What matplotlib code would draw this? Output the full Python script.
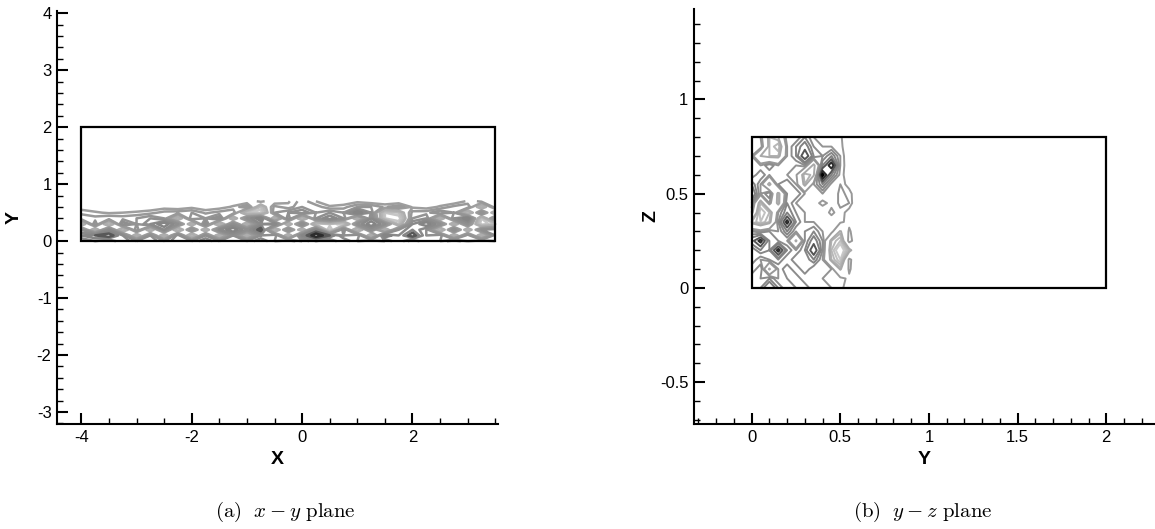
import numpy as np
import matplotlib
matplotlib.use("Agg")
import matplotlib.pyplot as plt
from matplotlib.patches import Rectangle
from matplotlib.ticker import MultipleLocator, FuncFormatter

plt.rcParams['font.family'] = ['Liberation Sans', 'DejaVu Sans']
plt.rcParams['axes.unicode_minus'] = False
plt.rcParams['mathtext.fontset'] = 'cm'

# ---- (a) x-y plane: field values (rows from top y=0.7 down to y=0)
xa = [-4.0, -3.75, -3.5, -3.25, -3.0, -2.75, -2.5, -2.25, -2.0, -1.75, -1.5, -1.25, -1.0,
      -0.75, -0.5, -0.25, 0.0, 0.25, 0.5, 0.75, 1.0, 1.25, 1.5, 1.75, 2.0, 2.25, 2.5,
      2.75, 3.0, 3.25, 3.5]
ya = [0.7, 0.6, 0.5, 0.4, 0.3, 0.2, 0.1, 0.0]
va = [
    [0, 0, 0, 0, 0, 0, 0, 0, 0, 0, 0, 0, 0, 0.7, 0, 0.4, 1.3, 0.5, 0, 0, 0.3, 0, 0, 0, 0, 0, 0, 0, 0.6, 1.2, 1.4],
    [0.2, 0, 0, 0, 0, 0, 0.2, 0, 0.3, 0, 0.2, 0.6, 1.5, -1.5, 1.2, 0.7, 1.5, 1.3, 0.6, 0.8, 1.5, 1.5, 0.9, 1.4, 0.4, 0.2, 0.6, 1.2, 1.5, -1.5, 1.5],
    [0.8, 0.6, 0.4, 0.5, 0.6, 0.8, 1.2, 1.3, 1.5, 0.9, 1.2, 1.5, -2, -2.5, 1.5, 2, 2.5, 1.5, 2, 1.5, 3.5, 2, -2, -1.5, 1.2, 1.3, 2, 1.5, -2, 2, -1.5],
    [1.5, 1.2, 1.5, 1.3, 1.5, 2, 1.5, -1.5, 2, 1.5, 2.5, -1.5, 2, 3.5, -1.5, 2.5, -2, 2, 3, 2, -1.5, 2.5, -2, -2.5, 1.5, 2, -1.5, 2, 3.5, -2, 2],
    [-1.5, 2, -2, 2.5, 1.5, 2.5, 3.5, 2, -1.5, 2.5, -2, 2, -1.5, 2.5, 3, -1.5, 2.5, -2, -1.5, -2.5, 2, 3.5, 2, -1.5, 2.5, 3.5, 2, -1.5, 2, -2.5, -1.5],
    [2, -1.5, 2.5, -2, 2, -1.5, 2.5, -2, 2, -1.5, 2.5, 3.5, 2, 4, -2, 2, -1.5, 3, -3, 2.5, -2, 2, -1.5, 2, 3, 2, -2, 2.5, -1.5, 2, 2.5],
    [3, 3.5, 4, 2.5, -1.5, 2, -1.5, 2.5, -2, 2, -1.5, 2, -1.5, 2, 2.5, -1.5, 3, 4.5, 3.5, 2, 2.5, -1.5, 3.5, 2.5, 4, 2, 2.5, -1.5, 2, -1.5, 2],
    [2, 2.5, 2, 3, 2, 2.5, 1.5, 2.5, 2, 3, 2, 2.5, 2, 3, 2, 2.5, 1.5, 2.5, 2, 3, 2, 2.5, 2, 3, 1.5, 2.5, 2, 3, 2, 2.5, 2],
]
box_a_x = [-4.0, 3.5]
box_a_y = [0.0, 2.0]

# ---- (b) y-z plane (rows from top z=0.8 down to z=0)
yb = [0.0, 0.05, 0.1, 0.15, 0.2, 0.25, 0.3, 0.35, 0.4, 0.45, 0.5, 0.55, 0.6]
zb = [0.8, 0.75, 0.7, 0.65, 0.6, 0.55, 0.5, 0.45, 0.4, 0.35, 0.3, 0.25, 0.2, 0.15, 0.1, 0.05, 0.0]
vb = [
    [2, 1.5, -1.5, -1, 2, 1.5, 2.5, 1.5, 1.5, 1.2, 1.1, 0.5, 0],
    [2, 2, -1.5, -2.5, 1.5, 2.5, 3.5, 2, 1.5, 1.5, 1.2, 0.4, 0],
    [1.5, -1, -1.5, -1.5, 1.5, 2.5, 5, 2.5, 2, 3, 1.5, 0.3, 0],
    [2, 1.5, 2.5, 1.5, 2, 1.5, 2, -1.5, 3, 6, 1.5, 0.4, 0],
    [1.5, 2.5, 1.5, 2, 1.5, 1.2, -2, -1.2, 6.5, 3, 1.3, 0.5, 0],
    [3, 1.5, -1.5, 2, 2.5, 1.5, -1.5, 1.5, 3, 1.3, 1.5, 0.6, 0],
    [4, 1.5, 2.5, -1.5, 2, 2.5, 1.5, 1.2, 1.5, 1.2, 1.6, 1.4, 0],
    [2.5, -2, 1.5, -1.5, 2.5, 1.5, 1.5, 1.3, 0.8, 1.2, 1.6, 1.5, 0],
    [1.5, -3, -2, 1.5, 3, 2, 1.5, 1.2, 1.5, 0.8, 1.4, 0.6, 0],
    [-1.5, -2.5, -1.5, 2, 5.5, 2.5, 1.5, 1.5, 1.2, 1.5, 1.2, 0.7, 0],
    [2, 1.5, 2, 1.5, 3, 1.5, 2, 2.5, 1.5, 1.5, -1.2, 1.2, 0],
    [3.5, 5.5, 2.5, 2, 1.5, -1.2, 2, 3.5, 2, -1.5, -2.5, 1.5, 0],
    [2, 3, 2.5, 5.5, 2.5, 1.5, 2.5, 5, 2, -2, -4, -1.5, 0.5],
    [2.5, 1.5, 2, 2.5, 1.5, 2.5, 2, 3, 1.5, -1.5, -3, 1.3, 0],
    [1.5, 2.5, -1.2, 1.5, 2.5, 1.5, 2.5, 1.5, 2, 1.5, -1.2, 1.2, 0],
    [2.5, 2, 2.5, 1.5, 2, 2.5, 1.5, 2, 1.5, 1.5, 1.3, 0.8, 0],
    [2, 2.5, 4, 2.5, 1.5, 2, 2.5, 1.5, 2, 1.5, 1.2, 0.6, 0],
]
box_b_x = [0.0, 2.0]
box_b_z = [0.0, 0.8]

levels_a = [-3, -2.5, -2, -1.5, -1, -0.5, 0.5, 1, 1.5, 2, 2.5, 3, 3.5, 4]
levels_b = [-4, -3, -2.5, -2, -1.5, -1, 1, 1.5, 2, 2.5, 3, 4, 5, 6]


def greys(levels, pos_pts, pos_g, neg_pts, neg_g):
    # light grey for negative levels, mid grey to black for positive ones
    out = []
    for lv in levels:
        if lv < 0:
            g = np.interp(-lv, neg_pts, neg_g)
        else:
            g = np.interp(lv, pos_pts, pos_g)
        out.append((g, g, g))
    return out


colors_a = greys(levels_a, [0.5, 3.0, 4.5], [0.62, 0.52, 0.0], [0.5, 3.0], [0.68, 0.84])
colors_b = greys(levels_b, [1.0, 3.0, 6.0], [0.6, 0.5, 0.0], [1.0, 4.0], [0.66, 0.85])

fig = plt.figure(figsize=(11.55, 5.29), dpi=100)
ax_a = fig.add_axes([0.0494, 0.1985, 0.3818, 0.7807])
ax_b = fig.add_axes([0.6009, 0.1985, 0.3991, 0.7845])


def style_axes(ax, xmaj, xmin, ymaj, ymin):
    for s in ['top', 'right']:
        ax.spines[s].set_visible(False)
    for s in ['left', 'bottom']:
        ax.spines[s].set_linewidth(1.5)
    ax.xaxis.set_major_locator(MultipleLocator(xmaj))
    ax.xaxis.set_minor_locator(MultipleLocator(xmin))
    ax.yaxis.set_major_locator(MultipleLocator(ymaj))
    ax.yaxis.set_minor_locator(MultipleLocator(ymin))
    fmt = FuncFormatter(lambda v, p: '%g' % round(v, 6))
    ax.xaxis.set_major_formatter(fmt)
    ax.yaxis.set_major_formatter(fmt)
    ax.tick_params(which='major', direction='in', length=8, width=1.5,
                   labelsize=12, pad=4)
    ax.tick_params(which='minor', direction='in', length=4.5, width=1.0)


# (a)
ax_a.contour(xa, ya, np.array(va), levels=levels_a,
             colors=colors_a, linewidths=1.8, linestyles='solid')
ax_a.add_patch(Rectangle((box_a_x[0], box_a_y[0]), box_a_x[1] - box_a_x[0],
                         box_a_y[1] - box_a_y[0], fill=False, lw=1.6,
                         ec='black', zorder=5))
ax_a.set_xlim(-4.44, 3.55)
ax_a.set_ylim(-3.21, 4.04)
style_axes(ax_a, 2, 0.5, 1, 0.2)
ax_a.set_xlabel('X', fontsize=14, fontweight='bold')
ax_a.set_ylabel('Y', fontsize=14, fontweight='bold')
ax_a.xaxis.set_label_coords(0.5, -0.065)
ax_a.yaxis.set_label_coords(-0.078, 0.5)

# (b)
ax_b.contour(yb, zb, np.array(vb), levels=levels_b,
             colors=colors_b, linewidths=1.4, linestyles='solid')
ax_b.add_patch(Rectangle((box_b_x[0], box_b_z[0]), box_b_x[1] - box_b_x[0],
                         box_b_z[1] - box_b_z[0], fill=False, lw=1.6,
                         ec='black', zorder=5))
ax_b.set_xlim(-0.325, 2.275)
ax_b.set_ylim(-0.722, 1.48)
style_axes(ax_b, 0.5, 0.1, 0.5, 0.1)
ax_b.set_xlabel('Y', fontsize=14, fontweight='bold')
ax_b.set_ylabel('Z', fontsize=14, fontweight='bold')
ax_b.xaxis.set_label_coords(0.5, -0.065)
ax_b.yaxis.set_label_coords(-0.076, 0.5)

fig.text(285 / 1155, 1 - 512 / 529, r'$\mathrm{(a)}\ \ x-y\ \mathrm{plane}$',
         ha='center', va='center', fontsize=15)
fig.text(923 / 1155, 1 - 512 / 529, r'$\mathrm{(b)}\ \ y-z\ \mathrm{plane}$',
         ha='center', va='center', fontsize=15)

fig.savefig('out.png', dpi=100)
